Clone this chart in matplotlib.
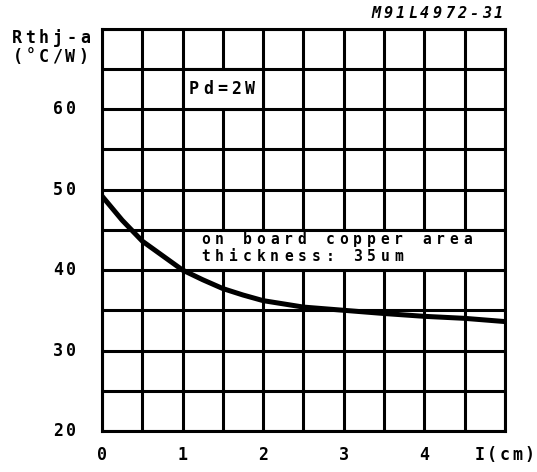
import matplotlib.pyplot as plt
from matplotlib.patches import Rectangle
from matplotlib.transforms import offset_copy

# Thermal resistance vs. copper side length (Pd = 2W, 35um copper)
length_cm = [0, 0.25, 0.5, 0.75, 1, 1.25, 1.5, 1.75, 2, 2.5, 3, 3.5, 4, 4.5, 5]
rthja = [49.2, 46.2, 43.6, 41.8, 40.0, 38.8, 37.7, 36.9, 36.2, 35.4, 35.0, 34.6, 34.25, 34.0, 33.6]

x_ticks = [0, 1, 2, 3, 4, 5]
x_labels = ['0', '1', '2', '3', '4', 'I(cm)']
y_ticks = [20, 30, 40, 50, 60]
y_labels = ['20', '30', '40', '50', '60']

FONT = 'DejaVu Sans Mono'
LW = 2.2

fig = plt.figure(figsize=(5.37, 4.72), dpi=100)
ax = fig.add_axes([0.190, 0.087, 0.750, 0.852])
ax.set_xlim(0, 5)
ax.set_ylim(20, 70)


def spaced(x, y, s, transform, pitch=13.7, ha='left', dx=0, dy=0, **kw):
    # plotter-style lettering: one glyph per fixed-width cell
    n = len(s)
    if ha == 'left':
        start = pitch / 2
    elif ha == 'right':
        start = -pitch * (n - 0.5)
    else:
        start = -pitch * (n - 1) / 2
    for i, ch in enumerate(s):
        tr = offset_copy(transform, fig=fig, x=dx + start + i * pitch, y=dy,
                         units='dots')
        ax.text(x, y, ch, transform=tr, ha='center', va='center',
                family=FONT, clip_on=False, **kw)


# grid every 0.5 cm and 5 degC/W
for i in range(11):
    ax.axvline(i * 0.5, color='black', lw=LW, zorder=1)
for i in range(11):
    ax.axhline(20 + i * 5, color='black', lw=LW, zorder=1)

# white label boxes sitting on grid cells
ax.add_patch(Rectangle((1, 60), 1, 5, facecolor='white', edgecolor='black',
                       lw=LW, zorder=2))
ax.add_patch(Rectangle((1, 40), 4, 5, facecolor='white', edgecolor='black',
                       lw=LW, zorder=2))

ax.plot(length_cm, rthja, color='black', lw=3.6, zorder=3,
        solid_capstyle='butt')

spaced(1, 62.5, 'Pd=2W', ax.transData, pitch=14.2, dx=4, fontsize=12,
       fontweight='bold', zorder=4)
spaced(1, 43.85, 'on board copper area', ax.transData, pitch=13.8, dx=16,
       fontsize=10.5, fontweight='bold', zorder=4)
spaced(1, 41.65, 'thickness: 35um', ax.transData, pitch=13.8, dx=16,
       fontsize=10.5, fontweight='bold', zorder=4)

for s in ax.spines.values():
    s.set_linewidth(LW)

ax.set_xticks([])
ax.set_yticks([])
for v, lab in zip(x_ticks, x_labels):
    spaced(v, 0, lab, ax.get_xaxis_transform(), pitch=12.5, ha='center',
           dy=-24, fontsize=12, fontweight='bold')
for v, lab in zip(y_ticks, y_labels):
    spaced(0, v, lab, ax.get_yaxis_transform(), pitch=13.5, ha='right',
           dx=-24, fontsize=12, fontweight='bold')

# axis title and drawing number above the plot area
spaced(0, 1, 'Rthj-a', ax.transAxes, pitch=13.7, ha='right', dx=-10, dy=-9,
       fontsize=12, fontweight='bold')
spaced(0, 1, '(°C/W)', ax.transAxes, pitch=13.2, ha='right', dx=-12, dy=-28,
       fontsize=12, fontweight='bold')
spaced(1, 1, 'M91L4972-31', ax.transAxes, pitch=12.3, ha='right', dy=15,
       fontsize=11, fontweight='bold', style='italic')

fig.savefig('out.png', dpi=100)
